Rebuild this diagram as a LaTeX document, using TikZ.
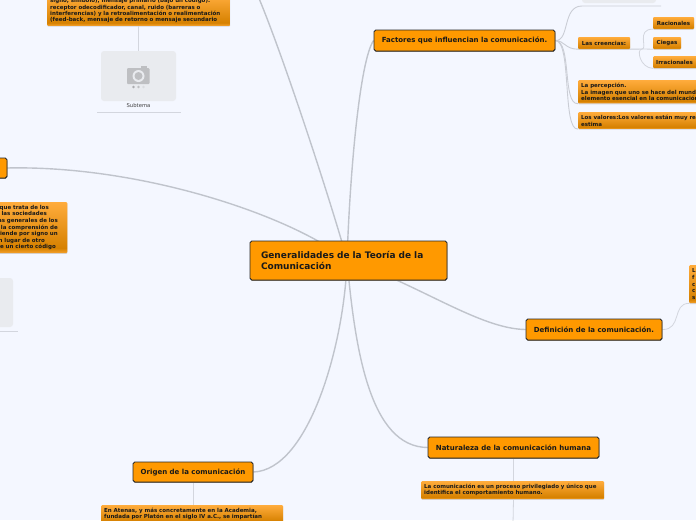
\documentclass[tikz,border=0pt]{standalone}
\usepackage{fontspec}
\setmainfont{DejaVu Sans}
\usetikzlibrary{shadows,calc}
\definecolor{pagebg}{HTML}{F4F7FF}
\definecolor{mainor}{HTML}{FF9900}
\definecolor{toptx}{HTML}{FFAC3C}
\definecolor{bottx}{HTML}{D68100}
\definecolor{lastx}{HTML}{F7A32E}
\definecolor{branch}{HTML}{C0C4CC}
\definecolor{branchb}{HTML}{CACDD5}
\definecolor{twig}{HTML}{D3D6DE}
\definecolor{imgbg}{HTML}{E9EBEF}
\definecolor{imgic}{HTML}{BEBFC2}
\pgfdeclarelayer{pagelayer}
\pgfdeclarelayer{edgelayer}
\pgfsetlayers{pagelayer,edgelayer,main}
\pgfdeclareverticalshading{notefill}{100bp}{color(0bp)=(lastx); color(25bp)=(lastx); color(30bp)=(bottx); color(75bp)=(toptx); color(100bp)=(toptx)}
\newcommand{\bx}[2]{\fontsize{#1}{#2}\selectfont\bfseries}
\newcommand{\rfrag}[2]{\makebox[\dimexpr #1pt+51.5pt\relax][r]{#2}}
\tikzset{
  x=1pt,y=-1pt,
  topic/.style={draw=black!85,line width=0.8pt,fill=mainor,rounded corners=1.8pt,
    drop shadow={shadow xshift=0.3pt,shadow yshift=-0.9pt,fill=black!55,opacity=1},
    inner sep=0pt,font=\bx{7}{8.5},text=black!90},
  note/.style={shading=notefill,rounded corners=1pt,
    drop shadow={shadow xshift=0pt,shadow yshift=-0.8pt,fill=twig,opacity=1},
    inner xsep=3pt,inner ysep=3pt,font=\bx{5.5}{6.3},text=black!90,align=left},
  imgbox/.style={fill=imgbg,rounded corners=3pt,inner sep=0pt},
  rulerline/.style={draw=twig,line width=0.7pt},
  bigedge/.style={draw=branch,line width=1.4pt},
  edge2/.style={draw=branchb,line width=0.9pt},
  edge3/.style={draw=twig,line width=0.8pt},
  captext/.style={inner sep=0pt,font=\fontsize{5.3}{6.5}\selectfont,text=black!75}
}
\begin{document}
\begin{tikzpicture}
\useasboundingbox (0,0) rectangle (696,520);
\begin{pgfonlayer}{pagelayer}
\fill[pagebg] (0,0) rectangle (696,520);
\end{pgfonlayer}
\clip (0,0) rectangle (696,520);

\coordinate (hub) at (347,260);
\coordinate (topend) at (258,-4);
\coordinate (natend) at (513,524);
\coordinate (leftend) at (7,168);

% central node
\node[topic,font=\bx{9}{11.5},minimum width=197pt,minimum height=39pt,text width=175pt,align=left] (gen) at (348.5,260.5)
 {Generalidades de la Teoría de la\\Comunicación};

% first level
\node[topic,minimum width=181pt,minimum height=21pt] (fac) at (464.5,40.5) {Factores que influencian la comunicación.};
\node[topic,minimum width=136pt,minimum height=21pt] (def) at (594,329.5) {Definición de la comunicación.};
\node[topic,minimum width=171pt,minimum height=21pt] (nat) at (513.5,447.5) {Naturaleza de la comunicación humana};
\node[topic,minimum width=120pt,minimum height=20pt] (ori) at (193,472) {Origen de la comunicación};
\node[topic,minimum width=70pt,minimum height=20pt] (lef) at (-28,168) {};

% notes
\node[note,minimum width=52pt,minimum height=12pt,inner sep=0pt] (cre) at (604,43) {Las creencias:};
\node[note,minimum width=41pt,minimum height=12pt,inner sep=0pt] (rac) at (673.5,23) {Racionales};
\node[note,minimum width=28pt,minimum height=12pt,inner sep=0pt] (cie) at (667,43) {Ciegas};
\node[note,minimum height=12pt,anchor=north west,text width=47pt,inner ysep=0pt] (irr) at (653,56) {Irracionales};
\node[note,anchor=north west,text width=126pt,font=\bx{5.5}{6.6},inner ysep=2.8pt] (per) at (578,80)
 {La percepción.\\La imagen que uno se hace del mundo\\elemento esencial en la comunicación};
\node[note,anchor=north west,text width=126pt,font=\bx{5.5}{7},inner ysep=2.6pt] (val) at (578,112)
 {Los valores:Los valores están muy re\\estima};
\node[note,anchor=north west,text width=16pt,minimum height=38pt,font=\bx{5.5}{6.6},inner ysep=1pt] (lbox) at (689,265)
 {L\\f\\c\\c\\s};
\node[note,anchor=north west,text width=177pt] (priv) at (421,481)
 {La comunicación es un proceso privilegiado y único que\\identifica el comportamiento humano.};
\node[note,anchor=north west,text width=176pt] (ate) at (101,505)
 {En Atenas, y más concretamente en la Academia,\\fundada por Platón en el siglo IV a.C., se impartían};
\node[note,anchor=south west,text width=177pt] (sis) at (47,26)
 {signo, símbolo), mensaje primario (bajo un código).\\receptor odecodificador, canal, ruido (barreras o\\interferencias) y la retroalimentación o realimentación\\(feed-back, mensaje de retorno o mensaje secundario};
\node[note,anchor=north east,text width=118pt,inner xsep=1pt,minimum height=50pt,font=\bx{5.5}{6.6}] (sem) at (67.5,202)
 {\rfrag{49}{que trata de los}\\\rfrag{47}{las sociedades}\\\rfrag{58}{as generales de los}\\\rfrag{58}{la comprensión de}\\\rfrag{58}{tiende por signo un}\\\rfrag{45}{n lugar de otro}\\\rfrag{56}{e un cierto código}};

% image placeholders
\node[imgbox,minimum width=75pt,minimum height=50pt] (im1) at (138.5,76) {};
\node[captext] (cap1) at (138.5,106) {Subtema};
\node[imgbox,minimum width=75pt,minimum height=49pt] (im2) at (-24.5,302.5) {};
\node[imgbox,minimum width=74pt,minimum height=30pt] (im3) at (619,-12) {};

\coordinate (r1a) at (97,112.5);
\coordinate (r1b) at (181,112.5);
\coordinate (r2a) at (-30,331);
\coordinate (r2b) at (18,331);
\coordinate (r3b) at (661,6);
\draw[rulerline] (r1a) -- (r1b);
\draw[rulerline] (r2a) -- (r2b);

% camera icon
\begin{scope}[shift={(im1.center)}]
\fill[imgic,rounded corners=1pt] (-11.5,-8) rectangle (11,8);
\fill[imgic] (2,-10) rectangle (8,-8);
\fill[imgbg] (0,0) circle (6);
\fill[imgic] (0,0) circle (4);
\fill[imgic!90!black] (-5,11) circle (1.3);
\fill[imgic] (0,11) circle (1.3);
\fill[imgic!35!imgbg] (5,11) circle (1.3);
\end{scope}

\begin{pgfonlayer}{edgelayer}
\draw[bigedge] (hub) .. controls (335,215) and (285,60) .. (topend);
\draw[bigedge] (hub) .. controls (350,170) and (360,60) .. (fac.west);
\draw[bigedge] (hub) .. controls (290,215) and (140,165) .. (leftend);
\draw[bigedge] (hub) .. controls (420,285) and (480,329) .. (def.west);
\draw[bigedge] (hub) .. controls (355,350) and (370,447) .. (nat.west);
\draw[bigedge] (hub) .. controls (345,340) and (310,470) .. (ori.east);
% factors
\coordinate (fe) at (fac.east);
\draw[edge2] (fe) .. controls (570,41) and (562,6) .. (582,6) -- (r3b);
\draw[edge2] (fe) .. controls (565,41) and (565,49) .. (cre.south west) -- (cre.south east);
\draw[edge2] (fe) .. controls (572,41) and (562,105) .. (per.south west);
\draw[edge2] (fe) .. controls (572,41) and (562,131) .. (val.south west);
% beliefs
\coordinate (cj) at (642,49);
\draw[edge2] (cre.south east) -- (cj);
\draw[edge3] (cj) .. controls (648,49) and (636,29) .. (rac.south west);
\draw[edge3] (cj) -- (cie.south west);
\draw[edge3] (cj) .. controls (636,49) and (640,68) .. (irr.south west);
% others
\draw[edge3] (def.east) .. controls (682,330) and (672,303) .. (lbox.south west);
\draw[edge3] (ori.south) -- (ate.north -| ori.south);
\draw[edge3] (nat.south) -- (priv.north -| nat.south);
\draw[edge3] (priv.south -| nat.south) -- (natend);
\draw[edge3] (sis.south -| im1.north) -- (im1.north);
\end{pgfonlayer}
\end{tikzpicture}
\end{document}
